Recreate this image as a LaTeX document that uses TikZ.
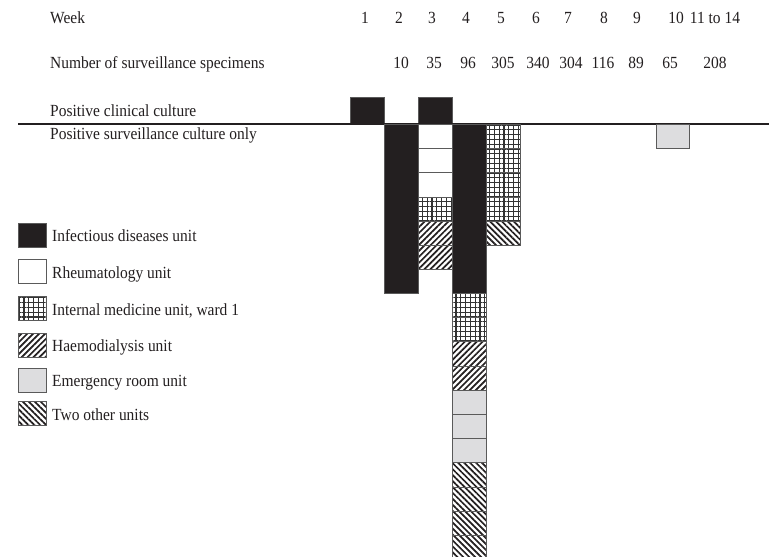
\documentclass[tikz,border=0pt]{standalone}
\usepackage{fontspec}
\setmainfont[FakeStretch=0.91]{Liberation Serif}
\usetikzlibrary{patterns.meta}
\definecolor{inkblack}{RGB}{35,31,32}
\definecolor{boxedge}{RGB}{90,90,90}
\definecolor{ergrey}{RGB}{221,221,223}
\tikzset{
  txt/.style={font=\fontsize{17}{20}\selectfont, inner sep=0pt, anchor=base west, text=inkblack},
  num/.style={font=\fontsize{17}{20}\selectfont, inner sep=0pt, anchor=base, text=inkblack},
  cell/.style={draw=boxedge, line width=0.9pt},
  infect/.style={cell, fill=inkblack},
  rheum/.style={cell, fill=white},
  intmed/.style={cell, pattern={Hatch[angle=0, distance=4.8pt, line width=1.2pt]}, pattern color=black!80},
  haemo/.style={cell, pattern={Lines[angle=45, distance=4.2pt, line width=1.7pt]}, pattern color=inkblack},
  emerg/.style={cell, fill=ergrey},
  twoother/.style={cell, pattern={Lines[angle=-45, distance=4.2pt, line width=1.7pt]}, pattern color=inkblack},
}
\begin{document}
\begin{tikzpicture}[x=1pt,y=-1pt]
\clip (0,0) rectangle (769,557);
\fill[white] (0,0) rectangle (769,557);

% header texts
\node[txt] (wk) at (50,23) {Week};
\node[txt] (nss) at (50,68) {Number of surveillance specimens};
\node[txt] (pcc) at (50,116) {Positive clinical culture};
\node[txt] (psc) at (50,139) {Positive surveillance culture only};

% week numbers
\foreach \x/\t [count=\i] in {365/1,399/2,432/3,466/4,501/5,536/6,568/7,604/8,637/9,676/10,715/11 to 14}
  \node[num] (w\i) at (\x,23) {\t};
% specimen counts
\foreach \x/\t [count=\i] in {401/10,434/35,468/96,503/305,538/340,571/304,603/116,636/89,670/65,715/208}
  \node[num] (n\i) at (\x,68) {\t};

% positive clinical culture (above line)
\draw[infect] (350.8,97) rectangle (384.7,124);
\draw[infect] (418.6,97) rectangle (452.5,124);

% baseline
\draw[line width=1.8pt, inkblack] (18,124) -- (769,124);

% week 2
\draw[infect] (384.7,124.5) rectangle (418.6,293.5);
% week 3
\foreach \a/\s in {0/rheum,1/rheum,2/rheum,3/intmed,4/haemo,5/haemo}
  \draw[\s] (418.6,124.5+24.2*\a) rectangle (452.5,124.5+24.2*\a+24.2);
% week 4
\draw[infect] (452.5,124.5) rectangle (486.4,293.5);
\foreach \a/\s in {0/intmed,1/intmed,2/haemo,3/haemo,4/emerg,5/emerg,6/emerg,7/twoother,8/twoother,9/twoother,10/twoother}
  \draw[\s] (452.5,293.5+24.2*\a) rectangle (486.4,293.5+24.2*\a+24.2);
% week 5
\foreach \a/\s in {0/intmed,1/intmed,2/intmed,3/intmed,4/twoother}
  \draw[\s] (486.4,124.5+24.2*\a) rectangle (520.3,124.5+24.2*\a+24.2);
% week 10
\draw[emerg] (656,124.5) rectangle (689.9,148.5);

% legend
\foreach \y/\s/\t [count=\i] in {223/infect/Infectious diseases unit,
                                  259.5/rheum/Rheumatology unit,
                                  296.5/intmed/{Internal medicine unit, ward 1},
                                  333/haemo/Haemodialysis unit,
                                  368/emerg/Emergency room unit,
                                  401.5/twoother/Two other units}
{
  \draw[\s] (18.5,\y) rectangle (46,\y+24);
  \node[txt] (leg\i) at (52,\y+18.5) {\t};
}
\end{tikzpicture}
\end{document}
